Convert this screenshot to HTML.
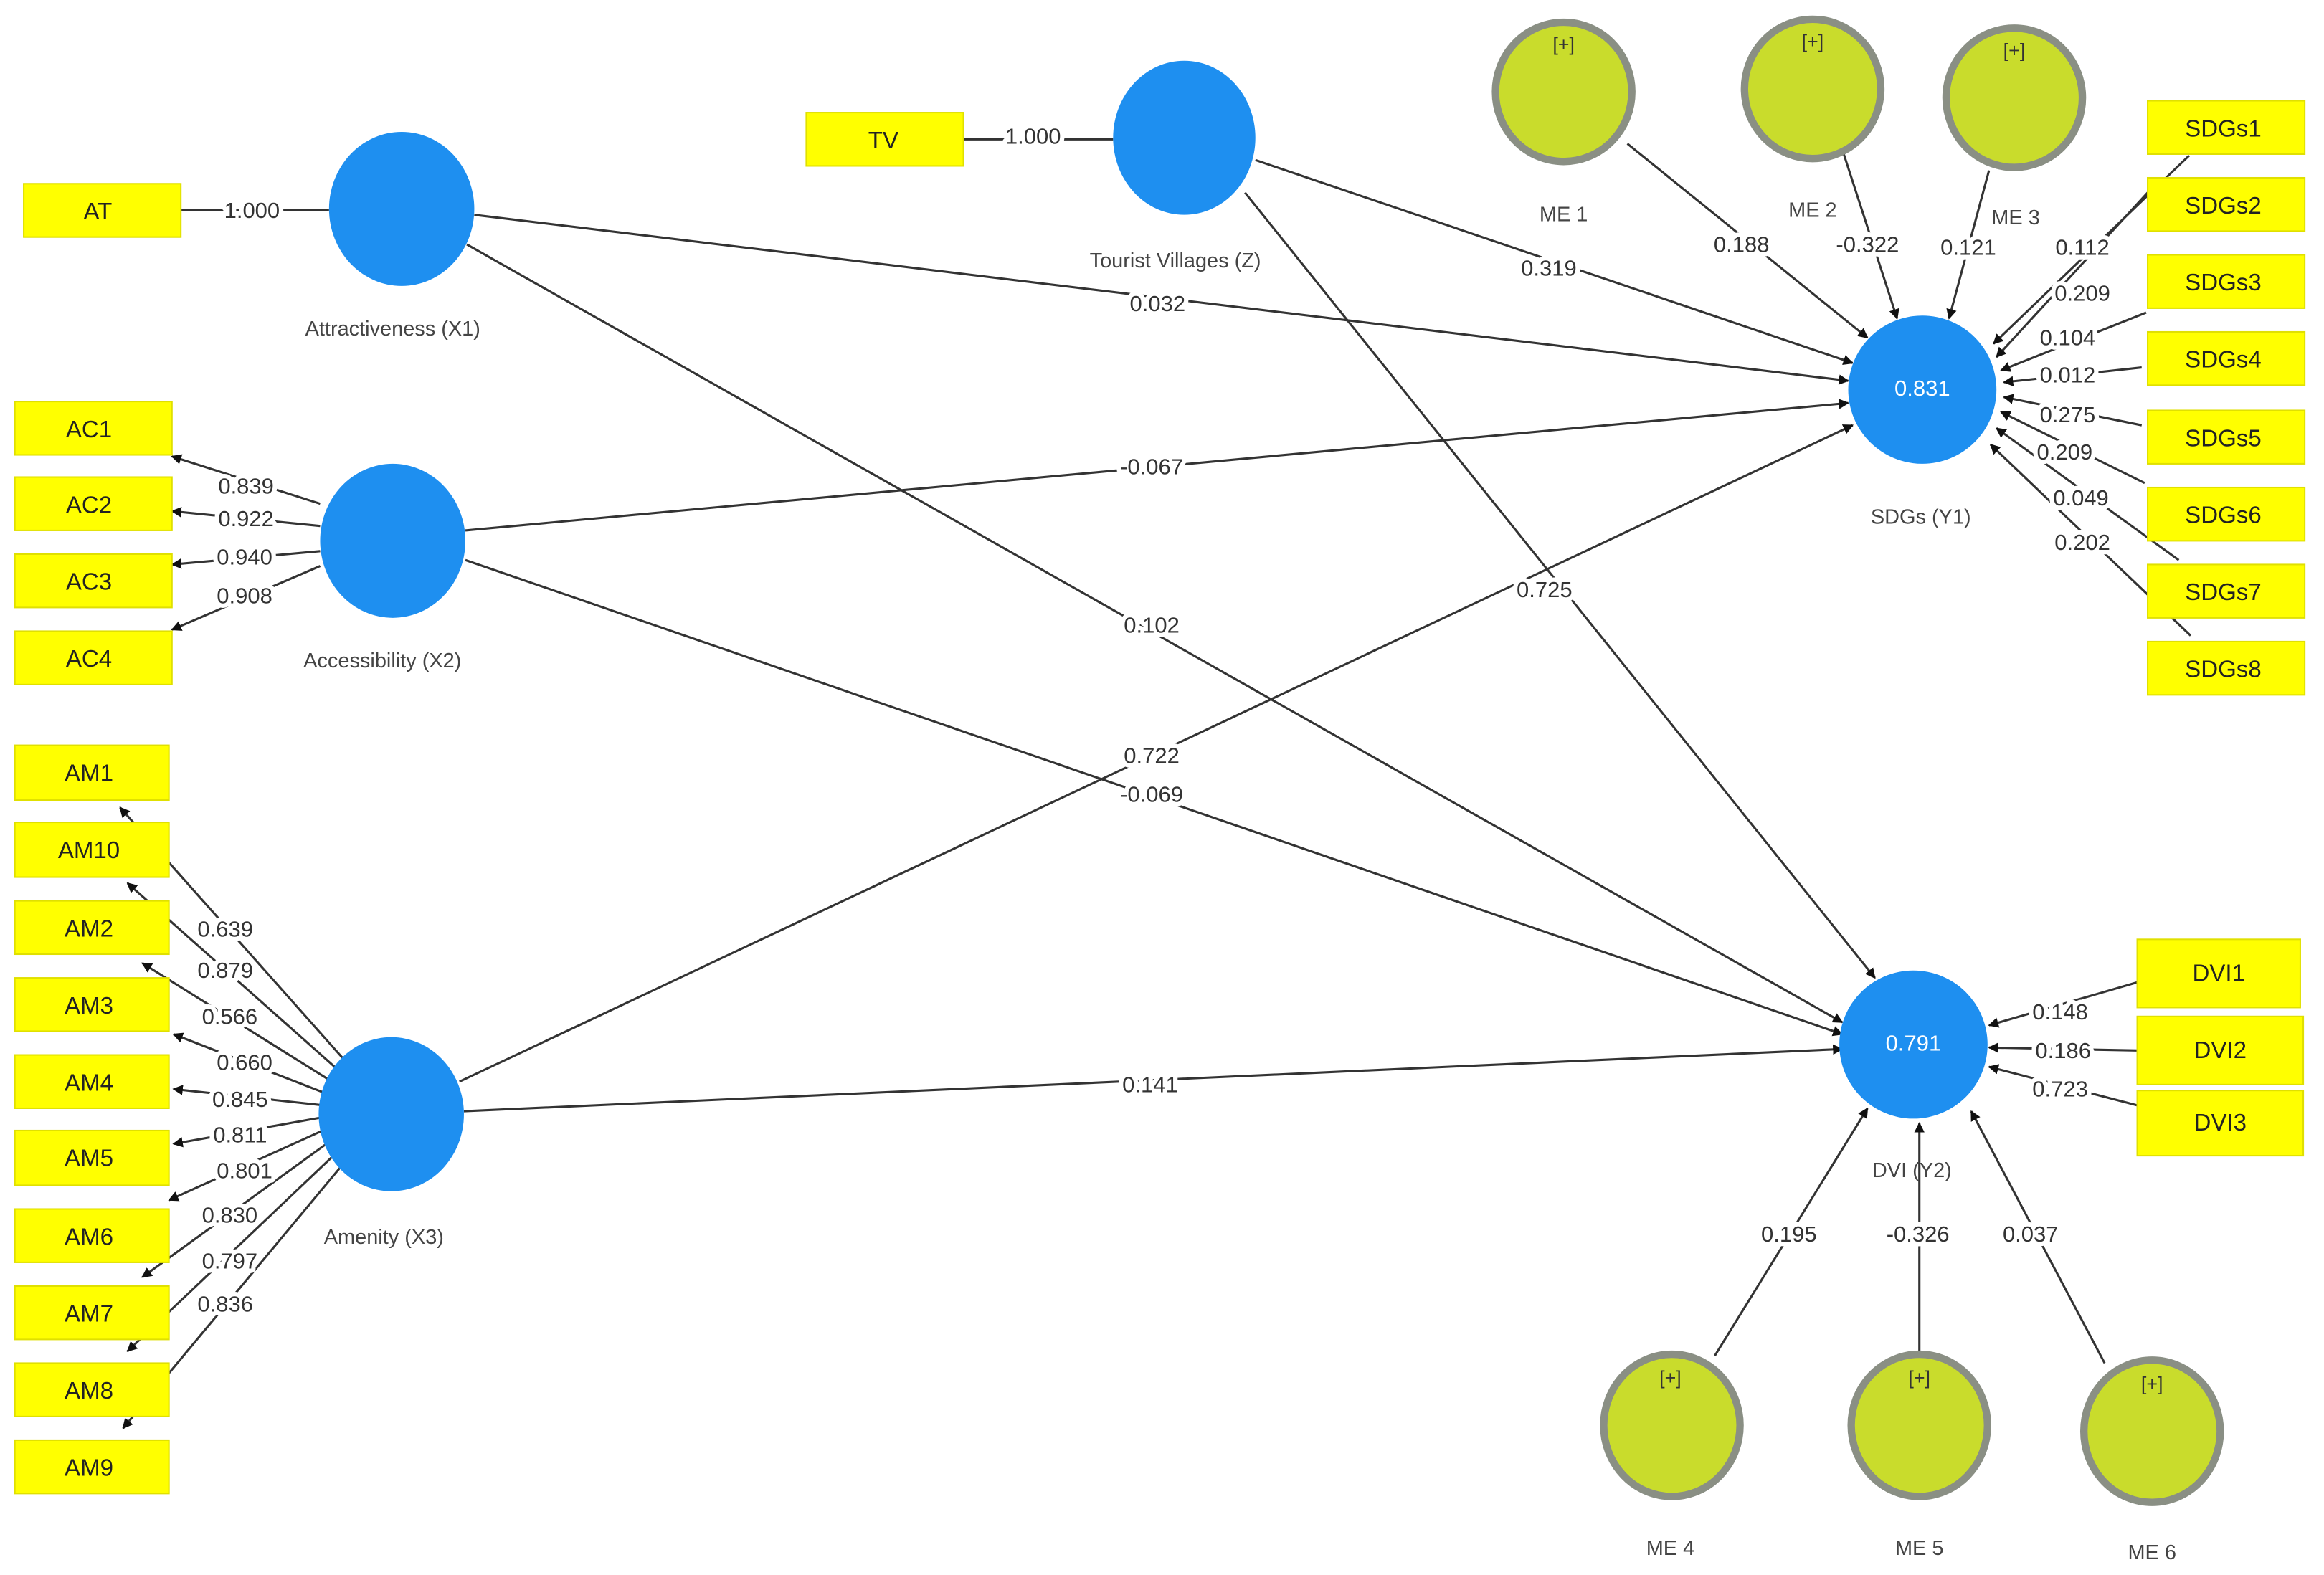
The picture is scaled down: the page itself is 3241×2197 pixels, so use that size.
<!DOCTYPE html>
<html><head><meta charset="utf-8"><style>
html,body{margin:0;padding:0;background:#fff;}
svg{display:block;}
text{font-family:"Liberation Sans",sans-serif;}
.l{font-size:15px;fill:#333;text-anchor:middle;dominant-baseline:central;}
.lb{font-size:15px;fill:#fff;stroke:#fff;stroke-width:6px;stroke-linejoin:round;text-anchor:middle;dominant-baseline:central;}
.b{font-size:16px;fill:#222;text-anchor:middle;dominant-baseline:central;}
.n{font-size:14px;fill:#444;text-anchor:middle;dominant-baseline:central;}
.e{stroke:#333;stroke-width:1.5;fill:none;}
.box{fill:#ffff00;stroke:#e0e000;stroke-width:1;}
.me{fill:#c9dc2c;stroke:#8a8f84;stroke-width:5;}
.c{fill:#1e8ff0;}
</style></head><body>
<svg width="3241" height="2197" viewBox="0 0 1568 1063" preserveAspectRatio="none" xmlns="http://www.w3.org/2000/svg">
<defs><marker id="a" viewBox="0 0 10 10" refX="9" refY="5" markerWidth="7" markerHeight="7" orient="auto" markerUnits="userSpaceOnUse"><path d="M0,0L10,5L0,10z" fill="#111"/></marker></defs>
<rect width="1568" height="1063" fill="#fff"/>
<g class="e">
<line x1="122" y1="142" x2="222" y2="142"/>
<line x1="650" y1="94" x2="751" y2="94"/>
<g marker-end="url(#a)">
<line x1="320" y1="145" x2="1247" y2="257"/>
<line x1="315" y1="165" x2="1243" y2="690"/>
<line x1="847" y1="108" x2="1250" y2="245"/>
<line x1="840" y1="130" x2="1265" y2="660"/>
<line x1="314" y1="358" x2="1247" y2="272"/>
<line x1="314" y1="378" x2="1243" y2="698"/>
<line x1="310" y1="730" x2="1250" y2="287"/>
<line x1="313" y1="750" x2="1243" y2="708"/>
<line x1="1098" y1="97" x2="1260" y2="228"/>
<line x1="1244" y1="104" x2="1280" y2="215"/>
<line x1="1342" y1="115" x2="1315" y2="215"/>
<line x1="1477" y1="105" x2="1345" y2="232"/>
<line x1="1449" y1="130" x2="1347" y2="241"/>
<line x1="1448" y1="211" x2="1350" y2="250"/>
<line x1="1445" y1="248" x2="1352" y2="258"/>
<line x1="1445" y1="287" x2="1352" y2="268"/>
<line x1="1447" y1="326" x2="1350" y2="278"/>
<line x1="1470" y1="378" x2="1347" y2="289"/>
<line x1="1478" y1="429" x2="1343" y2="300"/>
<line x1="1442" y1="663" x2="1342" y2="692"/>
<line x1="1442" y1="709" x2="1342" y2="707"/>
<line x1="1442" y1="746" x2="1342" y2="720"/>
<line x1="1157" y1="915" x2="1260" y2="748"/>
<line x1="1295" y1="915" x2="1295" y2="758"/>
<line x1="1420" y1="920" x2="1330" y2="750"/>
<line x1="216" y1="340" x2="116" y2="308"/>
<line x1="216" y1="355" x2="116" y2="345"/>
<line x1="216" y1="372" x2="116" y2="381"/>
<line x1="216" y1="382" x2="116" y2="425"/>
<line x1="232" y1="715" x2="81" y2="545"/>
<line x1="228" y1="722" x2="86" y2="596"/>
<line x1="224" y1="730" x2="96" y2="650"/>
<line x1="220" y1="738" x2="117" y2="698"/>
<line x1="218" y1="746" x2="117" y2="735"/>
<line x1="218" y1="754" x2="117" y2="772"/>
<line x1="220" y1="762" x2="114" y2="810"/>
<line x1="223" y1="770" x2="96" y2="862"/>
<line x1="227" y1="778" x2="86" y2="912"/>
<line x1="232" y1="785" x2="83" y2="964"/>
</g></g>
<rect class="box" x="16" y="124" width="106" height="36"/><text class="b" x="66" y="143">AT</text>
<rect class="box" x="544" y="76" width="106" height="36"/><text class="b" x="596" y="95">TV</text>
<rect class="box" x="10" y="271" width="106" height="36"/><text class="b" x="60" y="290">AC1</text>
<rect class="box" x="10" y="322" width="106" height="36"/><text class="b" x="60" y="341">AC2</text>
<rect class="box" x="10" y="374" width="106" height="36"/><text class="b" x="60" y="393">AC3</text>
<rect class="box" x="10" y="426" width="106" height="36"/><text class="b" x="60" y="445">AC4</text>
<rect class="box" x="10" y="503" width="104" height="37"/><text class="b" x="60" y="522">AM1</text>
<rect class="box" x="10" y="555" width="104" height="37"/><text class="b" x="60" y="574">AM10</text>
<rect class="box" x="10" y="608" width="104" height="36"/><text class="b" x="60" y="627">AM2</text>
<rect class="box" x="10" y="660" width="104" height="36"/><text class="b" x="60" y="679">AM3</text>
<rect class="box" x="10" y="712" width="104" height="36"/><text class="b" x="60" y="731">AM4</text>
<rect class="box" x="10" y="763" width="104" height="37"/><text class="b" x="60" y="782">AM5</text>
<rect class="box" x="10" y="816" width="104" height="36"/><text class="b" x="60" y="835">AM6</text>
<rect class="box" x="10" y="868" width="104" height="36"/><text class="b" x="60" y="887">AM7</text>
<rect class="box" x="10" y="920" width="104" height="36"/><text class="b" x="60" y="939">AM8</text>
<rect class="box" x="10" y="972" width="104" height="36"/><text class="b" x="60" y="991">AM9</text>
<rect class="box" x="1449" y="68" width="106" height="36"/><text class="b" x="1500" y="87">SDGs1</text>
<rect class="box" x="1449" y="120" width="106" height="36"/><text class="b" x="1500" y="139">SDGs2</text>
<rect class="box" x="1449" y="172" width="106" height="36"/><text class="b" x="1500" y="191">SDGs3</text>
<rect class="box" x="1449" y="224" width="106" height="36"/><text class="b" x="1500" y="243">SDGs4</text>
<rect class="box" x="1449" y="277" width="106" height="36"/><text class="b" x="1500" y="296">SDGs5</text>
<rect class="box" x="1449" y="329" width="106" height="36"/><text class="b" x="1500" y="348">SDGs6</text>
<rect class="box" x="1449" y="381" width="106" height="36"/><text class="b" x="1500" y="400">SDGs7</text>
<rect class="box" x="1449" y="433" width="106" height="36"/><text class="b" x="1500" y="452">SDGs8</text>
<rect class="box" x="1442" y="634" width="110" height="46"/><text class="b" x="1497" y="657">DVI1</text>
<rect class="box" x="1442" y="686" width="112" height="46"/><text class="b" x="1498" y="709">DVI2</text>
<rect class="box" x="1442" y="736" width="112" height="44"/><text class="b" x="1498" y="758">DVI3</text>
<ellipse class="c" cx="271" cy="141" rx="49" ry="52"/>
<ellipse class="c" cx="799" cy="93" rx="48" ry="52"/>
<ellipse class="c" cx="265" cy="365" rx="49" ry="52"/>
<ellipse class="c" cx="264" cy="752" rx="49" ry="52"/>
<circle class="c" cx="1297" cy="263" r="50"/>
<circle class="c" cx="1291" cy="705" r="50"/>
<text class="b" x="1297" y="262" style="fill:#fff;font-size:15px">0.831</text>
<text class="b" x="1291" y="704" style="fill:#fff;font-size:15px">0.791</text>
<ellipse class="me" cx="1055" cy="62" rx="46" ry="47"/>
<ellipse class="me" cx="1223" cy="60" rx="46" ry="47"/>
<ellipse class="me" cx="1359" cy="66" rx="46" ry="47"/>
<ellipse class="me" cx="1128" cy="962" rx="46" ry="48"/>
<ellipse class="me" cx="1295" cy="962" rx="46" ry="48"/>
<ellipse class="me" cx="1452" cy="966" rx="46" ry="48"/>
<g class="n" style="font-size:13px;fill:#333">
<text x="1055" y="30">[+]</text><text x="1223" y="28">[+]</text><text x="1359" y="34">[+]</text>
<text x="1127" y="930">[+]</text><text x="1295" y="930">[+]</text><text x="1452" y="934">[+]</text>
</g>
<g class="n">
<text x="1055" y="145">ME 1</text><text x="1223" y="142">ME 2</text><text x="1360" y="147">ME 3</text>
<text x="1127" y="1045">ME 4</text><text x="1295" y="1045">ME 5</text><text x="1452" y="1048">ME 6</text>
<text x="265" y="222">Attractiveness (X1)</text>
<text x="793" y="176">Tourist Villages (Z)</text>
<text x="258" y="446">Accessibility (X2)</text>
<text x="259" y="835">Amenity (X3)</text>
<text x="1296" y="349">SDGs (Y1)</text>
<text x="1290" y="790">DVI (Y2)</text>
</g>
<g class="lb">
<text x="170" y="142">1.000</text><text x="697" y="92">1.000</text>
<text x="781" y="205">0.032</text><text x="777" y="422">0.102</text>
<text x="1045" y="181">0.319</text><text x="1042" y="398">0.725</text>
<text x="777" y="315">-0.067</text><text x="777" y="510">0.722</text>
<text x="777" y="536">-0.069</text><text x="776" y="732">0.141</text>
<text x="1175" y="165">0.188</text><text x="1260" y="165">-0.322</text><text x="1328" y="167">0.121</text>
<text x="1405" y="167">0.112</text><text x="1405" y="198">0.209</text><text x="1395" y="228">0.104</text>
<text x="1395" y="253">0.012</text><text x="1395" y="280">0.275</text><text x="1393" y="305">0.209</text>
<text x="1404" y="336">0.049</text><text x="1405" y="366">0.202</text>
<text x="1390" y="683">0.148</text><text x="1392" y="709">0.186</text><text x="1390" y="735">0.723</text>
<text x="1207" y="833">0.195</text><text x="1294" y="833">-0.326</text><text x="1370" y="833">0.037</text>
<text x="166" y="328">0.839</text><text x="166" y="350">0.922</text><text x="165" y="376">0.940</text><text x="165" y="402">0.908</text>
<text x="152" y="627">0.639</text><text x="152" y="655">0.879</text><text x="155" y="686">0.566</text>
<text x="165" y="717">0.660</text><text x="162" y="742">0.845</text><text x="162" y="766">0.811</text>
<text x="165" y="790">0.801</text><text x="155" y="820">0.830</text><text x="155" y="851">0.797</text>
<text x="152" y="880">0.836</text>
</g>
<g class="l">
<text x="170" y="142">1.000</text><text x="697" y="92">1.000</text>
<text x="781" y="205">0.032</text><text x="777" y="422">0.102</text>
<text x="1045" y="181">0.319</text><text x="1042" y="398">0.725</text>
<text x="777" y="315">-0.067</text><text x="777" y="510">0.722</text>
<text x="777" y="536">-0.069</text><text x="776" y="732">0.141</text>
<text x="1175" y="165">0.188</text><text x="1260" y="165">-0.322</text><text x="1328" y="167">0.121</text>
<text x="1405" y="167">0.112</text><text x="1405" y="198">0.209</text><text x="1395" y="228">0.104</text>
<text x="1395" y="253">0.012</text><text x="1395" y="280">0.275</text><text x="1393" y="305">0.209</text>
<text x="1404" y="336">0.049</text><text x="1405" y="366">0.202</text>
<text x="1390" y="683">0.148</text><text x="1392" y="709">0.186</text><text x="1390" y="735">0.723</text>
<text x="1207" y="833">0.195</text><text x="1294" y="833">-0.326</text><text x="1370" y="833">0.037</text>
<text x="166" y="328">0.839</text><text x="166" y="350">0.922</text><text x="165" y="376">0.940</text><text x="165" y="402">0.908</text>
<text x="152" y="627">0.639</text><text x="152" y="655">0.879</text><text x="155" y="686">0.566</text>
<text x="165" y="717">0.660</text><text x="162" y="742">0.845</text><text x="162" y="766">0.811</text>
<text x="165" y="790">0.801</text><text x="155" y="820">0.830</text><text x="155" y="851">0.797</text>
<text x="152" y="880">0.836</text>
</g>
</svg>
</body></html>
